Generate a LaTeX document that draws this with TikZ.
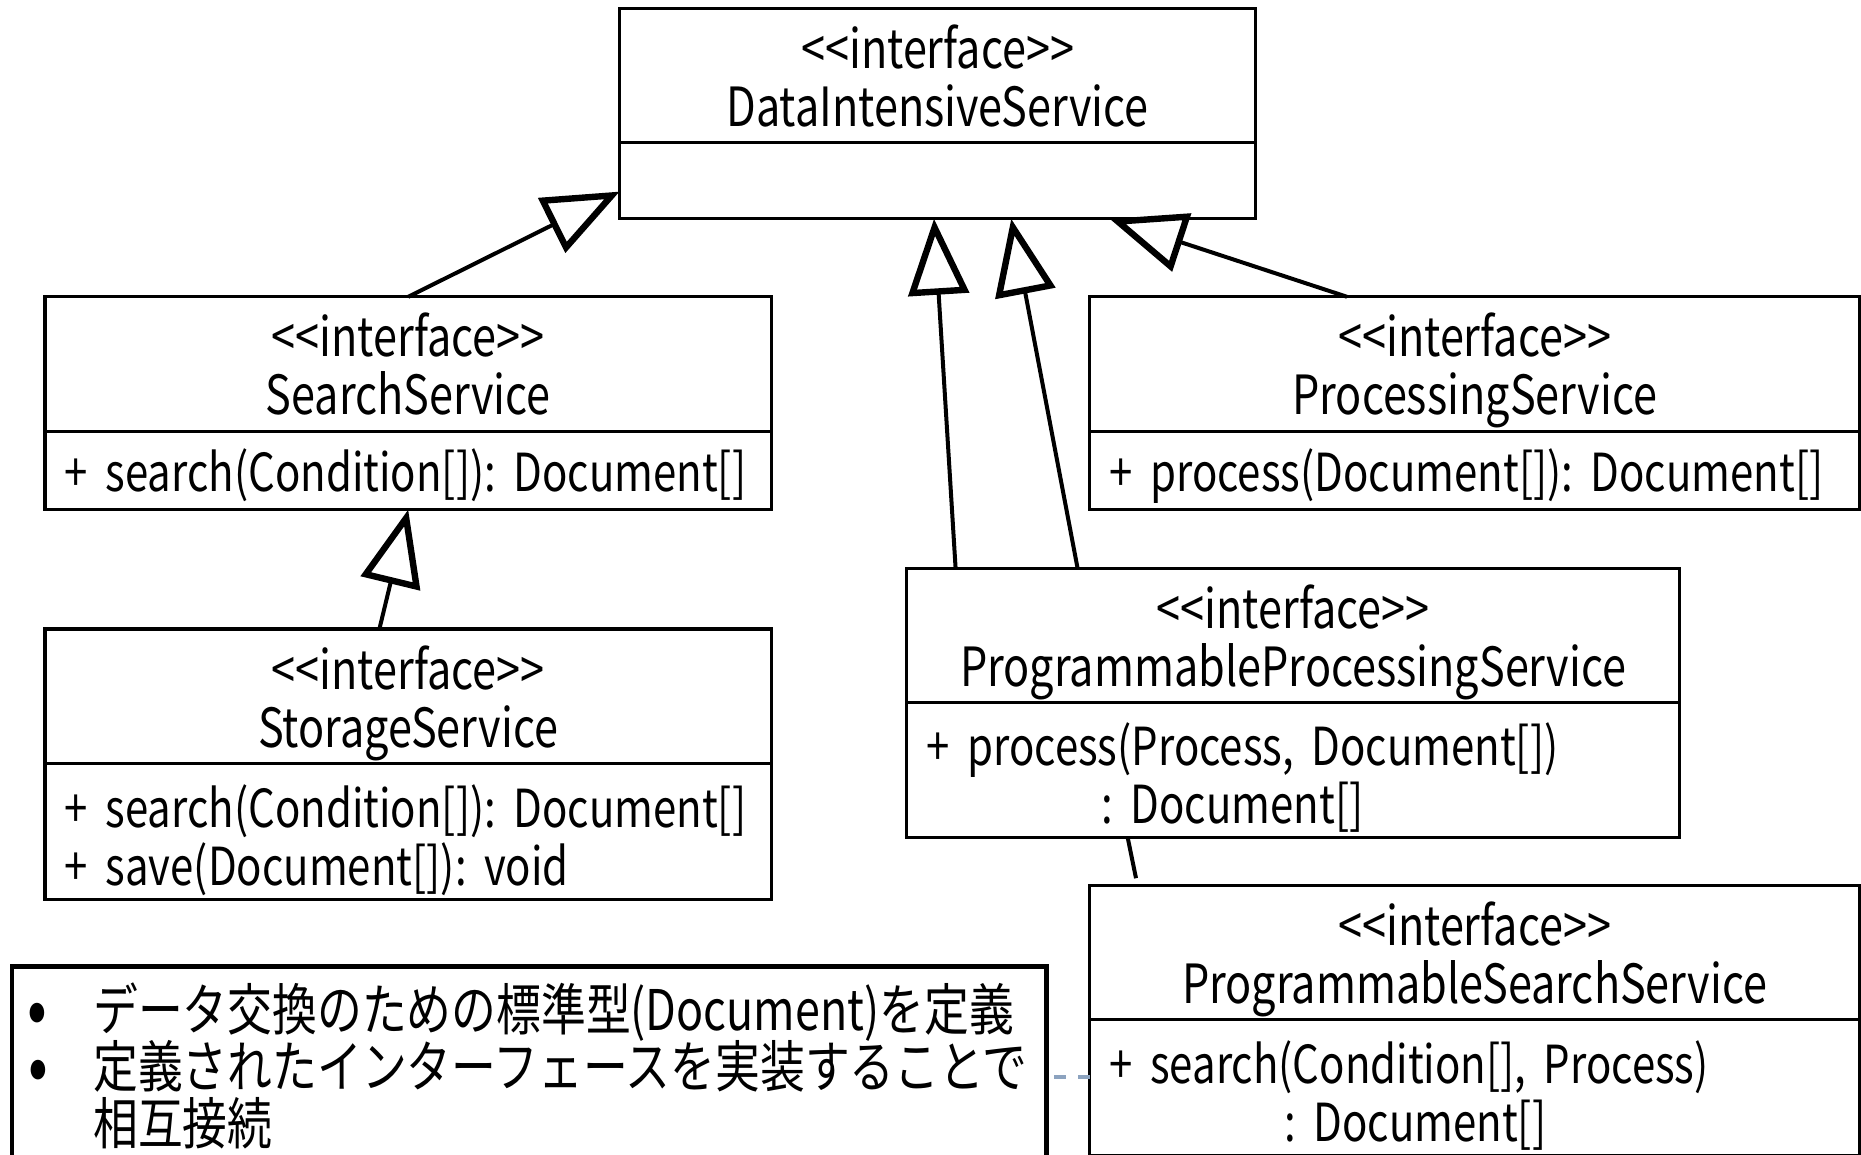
\documentclass[tikz,border=0pt]{standalone}
\usepackage{fontspec}
\setmainfont{Noto Sans CJK JP}[FakeStretch=0.8]
\usetikzlibrary{arrows.meta,positioning,calc}
\definecolor{linkGray}{HTML}{8CA3BF}
\newcommand\notefont{\fontsize{14pt}{14.25pt}\selectfont\lineskiplimit=-20pt\relax}
\newcommand\notebullet{\makebox[14.3pt][l]{\hspace*{-2pt}\smash{\raisebox{-1pt}{\scalebox{1.3}{•}}}}}
\frenchspacing

\begin{document}
\begin{tikzpicture}[
    x=1pt, y=-1pt,
    font=\fontsize{13.5pt}{14.5pt}\selectfont,
    line width=0.8pt,
    classhead/.style={draw, anchor=north west, align=center, inner sep=0pt, outer sep=0pt, text depth=-1pt, minimum height=33.6pt},
    classbody/.style={draw, align=left, inner xsep=5pt, inner ysep=0pt, outer sep=0pt, font=\fontsize{13.1pt}{14.5pt}\selectfont},
    twolines/.style={text height=12pt, text depth=14.2pt},
    inherit/.style={-{Triangle[open, length=19pt, width=15pt, line width=1.6pt]}, line width=1pt},
    notebox/.style={draw, line width=1.2pt, anchor=north west, align=left, inner xsep=6pt, inner ysep=4pt}
]
    \useasboundingbox (0,0) rectangle (465.25,288.75);

    % interfaces
    \node[classhead, minimum width=159pt] (dis) at (154.9,2.1) {{<}{<}interface{>}{>}\\DataIntensiveService};
    \node[classbody, minimum width=159pt, minimum height=19pt, below=0pt of dis] (disb) {};

    \node[classhead, minimum width=181.6pt] (ss) at (11.25,74.2) {{<}{<}interface{>}{>}\\SearchService};
    \node[classbody, text width=171.6pt, text depth=0pt, minimum height=19.6pt, below=0pt of ss] (ssb) {\mbox{+ search(Condition[]): Document[]}};

    \node[classhead, minimum width=192.5pt] (prs) at (272.4,74.2) {{<}{<}interface{>}{>}\\ProcessingService};
    \node[classbody, text width=182.5pt, text depth=0pt, minimum height=19.6pt, below=0pt of prs] (prsb) {\mbox{+ process(Document[]): Document[]}};

    \node[classhead, minimum width=181.6pt] (sts) at (11.25,157.25) {{<}{<}interface{>}{>}\\StorageService};
    \node[classbody, twolines, text width=171.6pt, minimum height=34pt, below=0pt of sts] (stsb) {\mbox{+ search(Condition[]): Document[]}\\\mbox{+ save(Document[]): void}};

    \node[classhead, minimum width=193.2pt] (pps) at (226.7,142.1) {{<}{<}interface{>}{>}\\ProgrammableProcessingService};
    \node[classbody, twolines, text width=183.2pt, minimum height=33.6pt, below=0pt of pps] (ppsb) {\mbox{+ process(Process, Document[])}\\\hspace*{43.7pt}: Document[]};

    \node[classhead, minimum width=192.5pt] (pss) at (272.4,221.35) {{<}{<}interface{>}{>}\\ProgrammableSearchService};
    \node[classbody, twolines, text width=182.5pt, minimum height=34pt, below=0pt of pss] (pssb) {\mbox{+ search(Condition[], Process)}\\\hspace*{43.7pt}: Document[]};

    % note
    \node[notebox, text width=246.7pt, font=\notefont] (note) at (2.4,241) {\notebullet データ交換のための標準型(Document)を定義\\\notebullet 定義されたインターフェースを実装することで\\\hspace*{14.3pt}相互接続};

    % generalizations
    \draw[inherit] (ss.north) -- ($(disb.south west)+(0,-6.8)$);
    \draw[inherit] ($(sts.north)+(-7.2,0)$) -- (ssb.south);
    \draw[inherit] ($(pps.north west)+(12.2,0)$) -- ($(disb.south)+(-0.9,0)$);
    \draw[inherit] ($(pps.north west)+(42.7,0)$) -- ($(disb.south)+(18.4,0)$);
    \draw[inherit] ($(prs.north)+(-31.9,0)$) -- ($(disb.south)+(43,0)$);
    \draw[line width=1pt] ($(ppsb.south west)+(55.2,0)$) -- ($(pss.north west)+(11.6,-1.8)$);
    \coordinate (lnk) at ($(pssb.west)+(0,-2.7)$);
    \draw[linkGray, dashed, line width=0.8pt] (lnk) -- (lnk -| note.east);
\end{tikzpicture}
\end{document}
